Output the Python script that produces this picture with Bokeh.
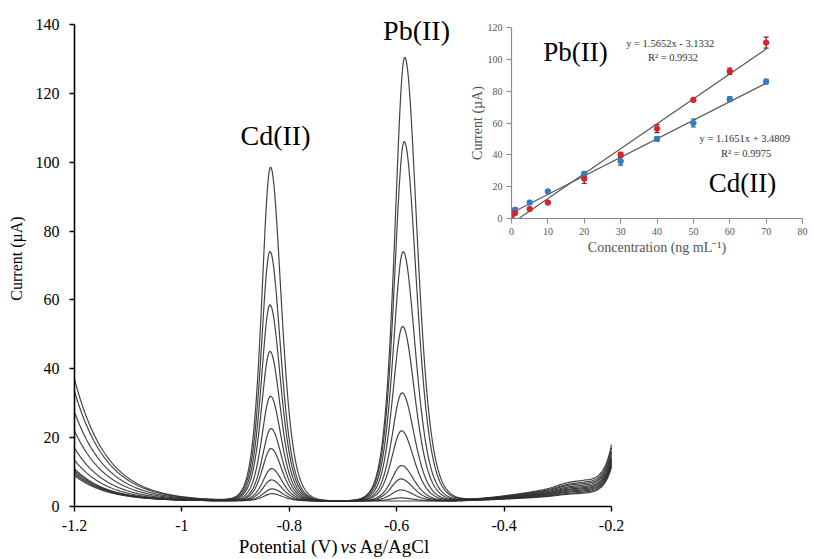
import numpy as np
from bokeh.plotting import figure
from bokeh.models import Range1d, FixedTicker, ColumnDataSource, Whisker, TeeHead
from bokeh.core.properties import value
from bokeh.embed import file_html
from bokeh.resources import INLINE

# ---------------- data: voltammograms ----------------
# one entry per curve, ascending concentration
cd_peak_pos = [-0.832, -0.832, -0.833, -0.833, -0.834, -0.834, -0.835, -0.836, -0.836, -0.836, -0.835]
cd_peak_cur = [3.7, 5.1, 7.7, 11.0, 16.8, 22.6, 32.0, 45.0, 58.5, 74.0, 98.5]
pb_peak_pos = [-0.593, -0.593, -0.592, -0.592, -0.591, -0.591, -0.590, -0.589, -0.588, -0.586, -0.585]
pb_peak_cur = [1.5, 2.5, 4.8, 8.0, 11.9, 22.0, 33.0, 52.3, 74.0, 106.0, 130.5]
start_cur = [9.0, 9.5, 10.0, 10.5, 11.0, 13.5, 17.0, 22.0, 27.5, 33.5, 37.0]   # at -1.2 V
end_cur = [11.5, 12.0, 12.5, 13.0, 13.5, 14.0, 14.5, 15.5, 16.0, 17.0, 18.0]   # at -0.2 V
ramp_cur = [2.0, 2.3, 2.6, 2.9, 3.2, 3.5, 3.8, 4.2, 4.6, 5.0, 5.5]           # near -0.25 V
hump_cur = [0.3, 0.3, 0.4, 0.4, 0.5, 0.5, 0.6, 0.6, 0.7, 0.7, 0.8]           # near -0.28 V
base_cur = 1.6

x_ticks = [-1.2, -1.0, -0.8, -0.6, -0.4, -0.2]
x_tick_labels = ["-1.2", "-1", "-0.8", "-0.6", "-0.4", "-0.2"]
y_ticks = [0, 20, 40, 60, 80, 100, 120, 140]
x_title = ["Potential (V)", "vs", "Ag/AgCl"]

# ---------------- data: calibration inset ----------------
conc = [0, 1, 5, 10, 20, 30, 40, 50, 60, 70]
pb_cal = [1.0, 3.5, 6.0, 10.0, 25.0, 40.0, 56.5, 74.5, 92.5, 110.5]
pb_err = [1.0, 1.0, 1.0, 1.0, 3.0, 1.5, 2.5, 1.0, 2.0, 3.5]
cd_cal = [4.5, 5.5, 10.0, 17.0, 28.0, 36.0, 50.0, 60.0, 75.0, 86.0]
cd_err = [1.0, 1.0, 1.0, 1.0, 1.5, 2.5, 1.5, 2.5, 1.5, 1.5]
pb_slope, pb_icpt = 1.5652, -3.1332
cd_slope, cd_icpt = 1.1651, 3.4809
inset_x_ticks = [0, 10, 20, 30, 40, 50, 60, 70, 80]
inset_y_ticks = [0, 20, 40, 60, 80, 100, 120]

SERIF = "Liberation Serif"

# ---------------- main figure ----------------
PX_PER_V = 537.0
PX_PER_UA = 482.0 / 140.0
ML, MR, MT, MB = 74, 4, 10, 53
W, H = 814, 559
x_end = -1.2 + (W - ML - MR) / PX_PER_V
y_end = (H - MT - MB) / PX_PER_UA

p = figure(width=W, height=H, x_range=Range1d(-1.2, x_end), y_range=Range1d(0, y_end),
           output_backend="svg", toolbar_location=None,
           min_border_left=ML, min_border_right=MR, min_border_top=MT, min_border_bottom=MB)
p.grid.visible = False
p.outline_line_color = None
p.background_fill_color = "white"
p.border_fill_color = "white"

for ax in (p.xaxis[0], p.yaxis[0]):
    ax.axis_line_color = "black"
    ax.axis_line_width = 1.6
    ax.major_tick_line_color = "black"
    ax.major_tick_line_width = 1.4
    ax.major_tick_in = 0
    ax.major_tick_out = 5
    ax.minor_tick_line_color = None
    ax.major_label_text_font = SERIF
    ax.major_label_text_font_size = "16px"
    ax.major_label_text_color = "black"
    ax.axis_label_text_font = SERIF
    ax.axis_label_text_font_size = "16px"
    ax.axis_label_text_font_style = "normal"
    ax.axis_label_text_color = "black"

p.xaxis[0].bounds = (-1.2, -0.2)
p.xaxis[0].ticker = FixedTicker(ticks=x_ticks)
p.xaxis[0].major_label_overrides = dict(zip(x_ticks, x_tick_labels))
p.xaxis[0].major_label_standoff = 8
p.yaxis[0].bounds = (0, 140)
p.yaxis[0].ticker = FixedTicker(ticks=y_ticks)
p.yaxis[0].major_label_standoff = 10
p.yaxis[0].axis_label = "Current (\u00b5A)"
p.yaxis[0].axis_label_standoff = 8

xv = np.linspace(-1.2, -0.2, 801)


def peak(x, x0, h, wl, wr):
    w = np.where(x < x0, wl, wr)
    return max(h - base_cur, 0.0) / np.cosh((x - x0) / w) ** 2


for i in range(len(cd_peak_cur)):
    base = (base_cur
            + (start_cur[i] - base_cur) * np.exp(-(xv + 1.2) / 0.06)
            + ramp_cur[i] * np.clip((xv + 0.52) / 0.27, 0, 1) ** 1.6
            + hump_cur[i] * np.exp(-((xv + 0.28) / 0.03) ** 2)
            + (end_cur[i] - base_cur - ramp_cur[i]) * np.exp((xv + 0.2) / 0.014))
    yv = (base
          + peak(xv, cd_peak_pos[i], cd_peak_cur[i], 0.022, 0.027)
          + peak(xv, pb_peak_pos[i], pb_peak_cur[i], 0.025, 0.031))
    p.line(xv, yv, line_color="#2f2f2f", line_width=1.2, line_alpha=0.9)

p.text(x=[-0.8257], y=[107.8], text=["Cd(II)"], text_font=value(SERIF), text_font_size="28px",
       text_align="center", text_baseline="alphabetic", text_color="black")
p.text(x=[-0.5631], y=[138.2], text=["Pb(II)"], text_font=value(SERIF), text_font_size="28px",
       text_align="center", text_baseline="alphabetic", text_color="black")

# ---------------- x-axis title (mixed upright / italic) ----------------
TW, TH = 300, 29
t = figure(width=TW, height=TH, x_range=Range1d(0, TW), y_range=Range1d(0, TH),
           output_backend="svg", toolbar_location=None,
           min_border_left=0, min_border_right=0, min_border_top=0, min_border_bottom=0,
           styles={"position": "absolute", "left": "200px", "top": "530px"})
t.axis.visible = False
t.grid.visible = False
t.outline_line_color = None
t.background_fill_alpha = 0
t.border_fill_alpha = 0
t.text(x=[137], y=[13], text=[x_title[0]], text_font=value(SERIF), text_font_size="19px",
       text_align="right", text_baseline="middle", text_color="black")
t.text(x=[148], y=[13], text=[x_title[1]], text_font=value(SERIF), text_font_size="19px",
       text_font_style="italic", text_align="center", text_baseline="middle", text_color="black")
t.text(x=[159], y=[13], text=[x_title[2]], text_font=value(SERIF), text_font_size="19px",
       text_align="left", text_baseline="middle", text_color="black")

# ---------------- inset figure ----------------
IW, IH = 348, 262
q = figure(width=IW, height=IH, x_range=Range1d(0, 80), y_range=Range1d(0, 120),
           output_backend="svg", toolbar_location=None,
           min_border_left=42, min_border_right=12, min_border_top=27, min_border_bottom=44,
           styles={"position": "absolute", "left": "466px", "top": "0px"})
q.grid.visible = False
q.outline_line_color = None
q.background_fill_alpha = 0
q.border_fill_alpha = 0

for ax in (q.xaxis[0], q.yaxis[0]):
    ax.axis_line_color = "#8a8a8a"
    ax.axis_line_width = 1.2
    ax.major_tick_line_color = "#8a8a8a"
    ax.major_tick_in = 0
    ax.major_tick_out = 5
    ax.minor_tick_line_color = None
    ax.major_label_text_font = SERIF
    ax.major_label_text_font_size = "10px"
    ax.major_label_text_color = "#555555"
    ax.major_label_standoff = 4
    ax.axis_label_text_font = SERIF
    ax.axis_label_text_font_size = "14px"
    ax.axis_label_text_font_style = "normal"
    ax.axis_label_text_color = "#555555"
    ax.axis_label_standoff = 2

q.xaxis[0].ticker = FixedTicker(ticks=inset_x_ticks)
q.yaxis[0].ticker = FixedTicker(ticks=inset_y_ticks)
q.xaxis[0].axis_label = "Concentration (ng mL\u207b\u00b9)"
q.yaxis[0].axis_label = "Current (\u00b5A)"
q.yaxis[0].axis_label_standoff = 0

# regression lines (from the fitted equations shown)
pb_x0 = -pb_icpt / pb_slope
q.line([pb_x0, conc[-1]], [0, pb_slope * conc[-1] + pb_icpt], line_color="#5a5a5a", line_width=1.2)
q.line([conc[0], conc[-1]], [cd_icpt, cd_slope * conc[-1] + cd_icpt], line_color="#5a5a5a", line_width=1.2)

pb_src = ColumnDataSource(dict(x=conc, y=pb_cal, lo=[a - b for a, b in zip(pb_cal, pb_err)],
                               hi=[a + b for a, b in zip(pb_cal, pb_err)]))
cd_src = ColumnDataSource(dict(x=conc, y=cd_cal, lo=[a - b for a, b in zip(cd_cal, cd_err)],
                               hi=[a + b for a, b in zip(cd_cal, cd_err)]))
for src, col, dark in ((cd_src, "#2f7fc1", "#1f4f7f"), (pb_src, "#d6252b", "#8b1a1e")):
    q.add_layout(Whisker(source=src, base="x", upper="hi", lower="lo", line_color=dark, line_width=1.2,
                         upper_head=TeeHead(size=5, line_color=dark, line_width=1.2),
                         lower_head=TeeHead(size=5, line_color=dark, line_width=1.2)))
    q.scatter("x", "y", source=src, marker="circle", size=5.5, fill_color=col, line_color=col)

q.text(x=[17.6], y=[104.7], text=["Pb(II)"], text_font=value(SERIF), text_font_size="27px",
       text_align="center", text_baseline="alphabetic", text_color="black")
q.text(x=[63.5], y=[22.0], text=["Cd(II)"], text_font=value(SERIF), text_font_size="27px",
       text_align="center", text_baseline="alphabetic", text_color="black")
q.text(x=[44.0, 44.4], y=[110.0, 101.4],
       text=["y = 1.5652x  - 3.1332", "R\u00b2 = 0.9932"],
       text_font=value(SERIF), text_font_size="10.5px", text_align="center",
       text_baseline="alphabetic", text_color="#333333")
q.text(x=[64.5, 64.5], y=[50.4, 41.0],
       text=["y = 1.1651x  + 3.4809", "R\u00b2 = 0.9975"],
       text_font=value(SERIF), text_font_size="10.5px", text_align="center",
       text_baseline="alphabetic", text_color="#333333")

html = file_html([p, t, q], INLINE, title="Voltammograms")
open("out.html", "w").write(html)
